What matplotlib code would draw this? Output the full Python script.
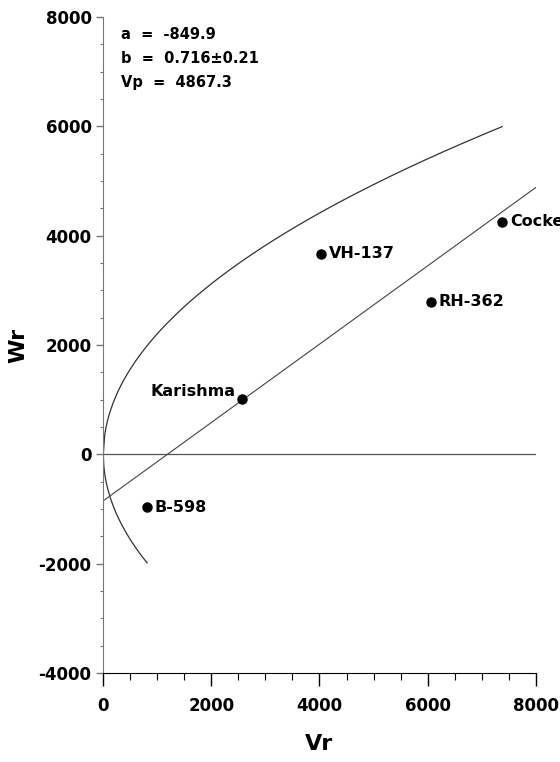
import numpy as np
import matplotlib
matplotlib.use("Agg")
import matplotlib.pyplot as plt
from matplotlib.ticker import MultipleLocator

plt.rcParams['font.family'] = ['DejaVu Sans']
plt.rcParams['axes.unicode_minus'] = False

# parents (Vr, Wr)
names = ['Cockerell', 'VH-137', 'RH-362', 'Karishma', 'B-598']
vr = [7380, 4030, 6065, 2570, 810]
wr = [4255, 3670, 2790, 1010, -970]

# regression / limiting parabola parameters
a = -849.9
b = 0.716
b_se = 0.21
vp = 4867.3

fig = plt.figure(figsize=(5.6, 7.62), dpi=100)
ax = fig.add_axes([0.1845, 0.1168, 0.772, 0.861])

# limiting parabola Wr^2 = Vp * Vr
up = np.linspace(0, max(vr), 300)
lo = np.linspace(0, min(vr), 100)
ax.plot(up, np.sqrt(vp * up), color='#333333', lw=0.9)
ax.plot(lo, -np.sqrt(vp * lo), color='#333333', lw=0.9)

# zero line and regression line
ax.axhline(0, color='#555555', lw=0.9)
xl = np.array([0, 8000])
ax.plot(xl, a + b * xl, color='#444444', lw=0.8)

ax.plot(vr, wr, 'o', color='black', ms=6.5, zorder=5)
for n, x, y in zip(names, vr, wr):
    if n == 'Karishma':
        ax.annotate(n, (x, y), xytext=(-5, 0), textcoords='offset points',
                    ha='right', va='bottom', fontsize=11.5, fontweight='bold')
    else:
        ax.annotate(n, (x, y), xytext=(5.5, 0), textcoords='offset points',
                    ha='left', va='center', fontsize=11.5, fontweight='bold',
                    annotation_clip=False)

ax.text(0.04, 0.985, 'a  =  -849.9', transform=ax.transAxes, fontsize=10.5,
        fontweight='bold', va='top')
ax.text(0.04, 0.948, 'b  =  0.716\u00b10.21', transform=ax.transAxes, fontsize=10.5,
        fontweight='bold', va='top')
ax.text(0.04, 0.911, 'Vp  =  4867.3', transform=ax.transAxes, fontsize=10.5,
        fontweight='bold', va='top')

ax.set_xlim(0, 8000)
ax.set_ylim(-4000, 8000)
ax.xaxis.set_major_locator(MultipleLocator(2000))
ax.xaxis.set_minor_locator(MultipleLocator(500))
ax.yaxis.set_major_locator(MultipleLocator(2000))
ax.yaxis.set_minor_locator(MultipleLocator(500))

ax.spines['top'].set_visible(False)
ax.spines['right'].set_visible(False)
ax.spines['left'].set_color('#777777')
ax.tick_params(axis='x', which='major', length=9, width=1, labelsize=12, pad=8)
ax.tick_params(axis='x', which='minor', length=5, width=0.8)
ax.tick_params(axis='y', which='major', length=5, width=1, labelsize=12, colors='#777777',
               labelcolor='black')
ax.tick_params(axis='y', which='minor', length=2.5, width=0.8, colors='#777777')

for lab in ax.get_xticklabels() + ax.get_yticklabels():
    lab.set_fontweight('bold')
ax.get_xticklabels()[0].set_fontweight('normal')

ax.set_xlabel('Vr', fontsize=16, fontweight='bold', labelpad=14)
ax.set_ylabel('Wr', fontsize=16, fontweight='bold', labelpad=7)

fig.savefig('out.png', dpi=100)
